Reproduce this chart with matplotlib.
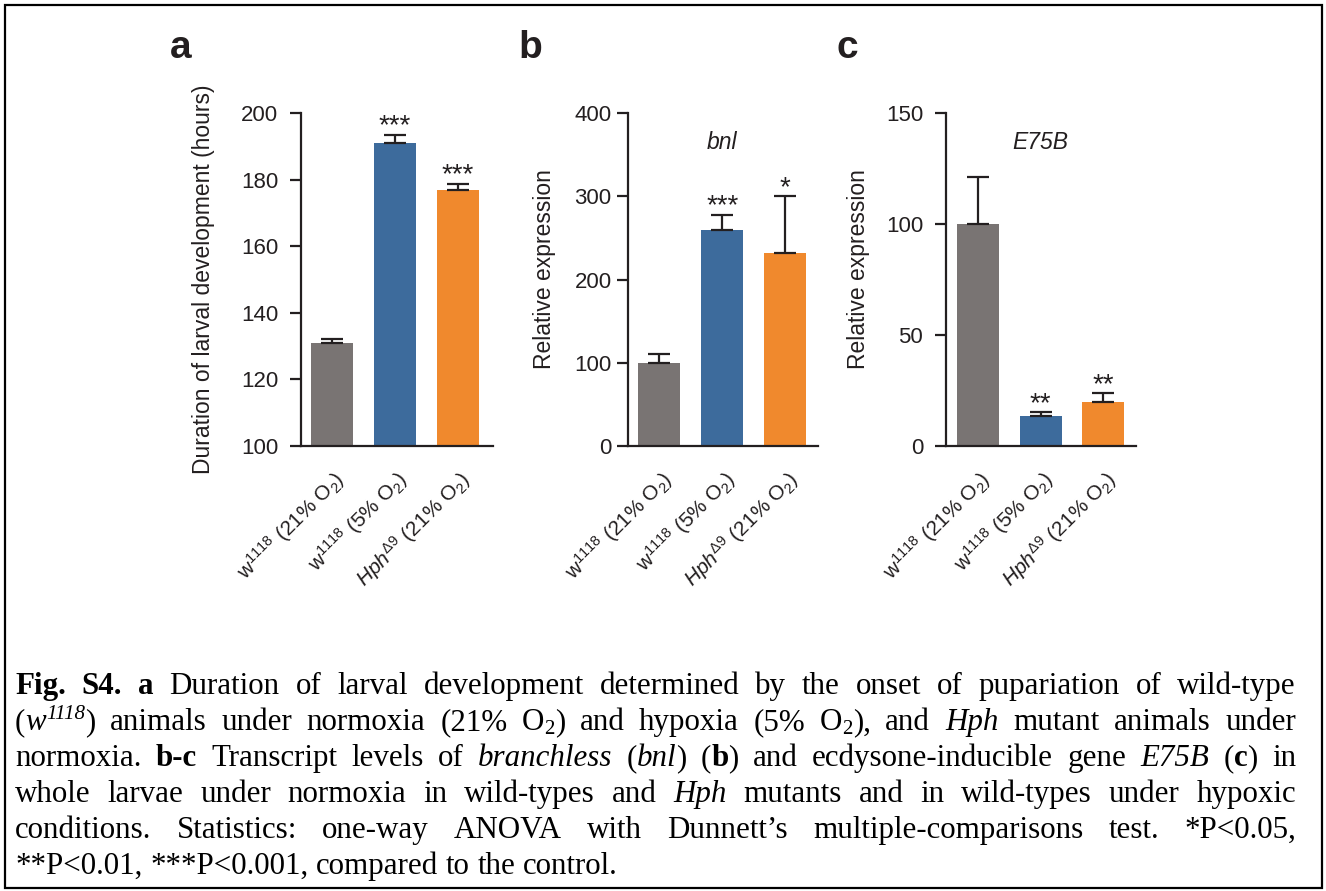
import re
import matplotlib
matplotlib.use('Agg')
import matplotlib.pyplot as plt
from matplotlib.patches import Rectangle

plt.rcParams['font.family'] = 'Liberation Sans'
plt.rcParams['mathtext.fontset'] = 'custom'
plt.rcParams['mathtext.rm'] = 'Liberation Sans'
plt.rcParams['mathtext.it'] = 'Liberation Sans:italic'
plt.rcParams['mathtext.bf'] = 'Liberation Sans:bold'

# ---------------- data ----------------
categories = [r"$\mathregular{w^{1118}}$ (21% O$_\mathregular{2}$)",
              r"$\mathregular{w^{1118}}$ (5% O$_\mathregular{2}$)",
              r"$\mathit{Hph}^{\mathregular{\Delta 9}}$ (21% O$_\mathregular{2}$)"]

dur_means = [131, 191, 177]
dur_err = [1.2, 2.4, 1.8]
dur_stars = ["", "***", "***"]

bnl_means = [100, 260, 232]
bnl_err = [11, 18, 68]
bnl_stars = ["", "***", "*"]

e75_means = [100, 13.5, 20]
e75_err = [21, 1.7, 3.7]
e75_stars = ["", "**", "**"]

bar_colors = ['#797473', '#3d6b9c', '#f0892d']
ink = '#231f20'

W, H = 1326, 891
fig = plt.figure(figsize=(W / 100, H / 100), dpi=100)


def px_axes(left, right, top=113, bottom=446):
    return fig.add_axes([left / W, 1 - bottom / H, (right - left) / W, (bottom - top) / H])


panels = [
    dict(rect=(301, 493), xlim=(-0.49, 2.56), means=dur_means, err=dur_err, stars=dur_stars,
         ylim=(100, 200), yticks=[100, 120, 140, 160, 180, 200],
         ylabel='Duration of larval development (hours)', ylab_xy=(-0.45, 0.5),
         tpad=8.5, gene=None, letter='a', letter_x=170),
    dict(rect=(628, 818), xlim=(-0.5, 2.52), means=bnl_means, err=bnl_err, stars=bnl_stars,
         ylim=(0, 400), yticks=[0, 100, 200, 300, 400],
         ylabel='Relative expression', ylab_xy=(-0.38, 0.53),
         tpad=3.8, gene='bnl', letter='b', letter_x=518),
    dict(rect=(946, 1136), xlim=(-0.51, 2.52), means=e75_means, err=e75_err, stars=e75_stars,
         ylim=(0, 150), yticks=[0, 50, 100, 150],
         ylabel='Relative expression', ylab_xy=(-0.40, 0.53),
         tpad=8.5, gene='E75B', letter='c', letter_x=837),
]

x = list(range(len(categories)))
for p in panels:
    ax = px_axes(*p['rect'])
    ax.bar(x, p['means'], width=0.667, color=bar_colors, zorder=2)
    ax.errorbar(x, p['means'], yerr=[[0] * 3, p['err']], fmt='none', ecolor=ink,
                elinewidth=1.6, capsize=8, capthick=1.6, zorder=3)
    for xi, m, e, s in zip(x, p['means'], p['err'], p['stars']):
        if s:
            ax.annotate(s, (xi, m + e), xytext=(0, 1.0), textcoords='offset points',
                        ha='center', va='baseline', fontsize=20, color=ink)
    ax.set_xlim(*p['xlim'])
    ax.set_ylim(*p['ylim'])
    ax.set_yticks(p['yticks'])
    ax.set_xticks(x)
    ax.set_xticklabels(categories, rotation=45, ha='right', rotation_mode='anchor',
                       fontsize=15, color=ink)
    ax.tick_params(axis='x', length=0, pad=15)
    ax.tick_params(axis='y', length=8, width=1.6, pad=p['tpad'], labelsize=16,
                   color=ink, labelcolor=ink)
    for side in ('top', 'right'):
        ax.spines[side].set_visible(False)
    for side in ('left', 'bottom'):
        ax.spines[side].set_linewidth(1.6)
        ax.spines[side].set_color(ink)
    ax.set_ylabel(p['ylabel'], fontsize=16.5, color=ink)
    ax.yaxis.set_label_coords(*p['ylab_xy'])
    ax.patch.set_alpha(0)
    if p['gene']:
        ax.text(1, 0.91, p['gene'], transform=ax.get_xaxis_transform(), ha='center',
                va='center', fontsize=16.5, style='italic', color=ink)
    fig.text(p['letter_x'] / W, 1 - 57.5 / H, p['letter'], ha='left', va='baseline',
             fontsize=28, fontweight='bold', color=ink)

# ---------------- caption (justified) ----------------
caption_lines = [
    "[b]Fig. S4. a[/b] Duration of larval development determined by the onset of pupariation of wild-type",
    "([i]w[sup]1118[/sup][/i]) animals under normoxia (21% O[sub]2[/sub]) and hypoxia (5% O[sub]2[/sub]), and [i]Hph[/i] mutant animals under",
    "normoxia. [b]b-c[/b] Transcript levels of [i]branchless[/i] ([i]bnl[/i]) ([b]b[/b]) and ecdysone-inducible gene [i]E75B[/i] ([b]c[/b]) in",
    "whole larvae under normoxia in wild-types and [i]Hph[/i] mutants and in wild-types under hypoxic",
    "conditions. Statistics: one-way ANOVA with Dunnett\u2019s multiple-comparisons test. *P<0.05,",
    "**P<0.01, ***P<0.001, compared to the control.",
]
cap_fs = 22.3
cap_left, cap_right = 15, 1296
baselines = [694, 730, 766, 802, 838, 874]


def parse(line):
    state = {'b': False, 'i': False, 'sup': False, 'sub': False}
    chars = []
    for m in re.finditer(r'\[(/?)(b|i|sup|sub)\]|(.)', line):
        if m.group(3) is not None:
            shift = 'sup' if state['sup'] else ('sub' if state['sub'] else None)
            chars.append((m.group(3), state['b'], state['i'], shift))
        else:
            state[m.group(2)] = (m.group(1) == '')
    words, cur = [], []
    for ch in chars:
        if ch[0] == ' ':
            if cur:
                words.append(cur)
                cur = []
        else:
            cur.append(ch)
    if cur:
        words.append(cur)
    out = []
    for w in words:
        runs = []
        for c, b, i, s in w:
            if runs and runs[-1][1:] == (b, i, s):
                runs[-1] = (runs[-1][0] + c, b, i, s)
            else:
                runs.append((c, b, i, s))
        out.append(runs)
    return out


renderer = fig.canvas.get_renderer()


def run_kw(b, i, s):
    return dict(fontsize=cap_fs * (0.68 if s else 1.0), fontweight='bold' if b else 'normal',
                fontstyle='italic' if i else 'normal', family='Liberation Serif', color='black')


def text_w(s, kw):
    t = fig.text(0, 0, s, **kw)
    w = t.get_window_extent(renderer).width
    t.remove()
    return w


def adv(s, kw):
    return text_w('H' + s + 'H', kw) - text_w('HH', kw)


em_px = cap_fs * 100 / 72
space_w = adv(' ', run_kw(False, False, None))
for li, (line, base) in enumerate(zip(caption_lines, baselines)):
    words = parse(line)
    widths = []
    for w in words:
        widths.append([adv(r[0], run_kw(*r[1:])) for r in w])
    total = sum(sum(ws) for ws in widths)
    if li < len(caption_lines) - 1 and len(words) > 1:
        gap = (cap_right - cap_left - total) / (len(words) - 1)
    else:
        gap = space_w
    cx = cap_left
    for w, ws in zip(words, widths):
        for (txt, b, i, s), rw in zip(w, ws):
            yoff = 0.36 * em_px if s == 'sup' else (-0.12 * em_px if s == 'sub' else 0)
            fig.text(cx / W, 1 - (base - yoff) / H, txt, ha='left', va='baseline', **run_kw(b, i, s))
            cx += rw
        cx += gap

# ---------------- frame ----------------
fig.patches.append(Rectangle((5 / W, 1 - 888 / H), 1317 / W, 883 / H, transform=fig.transFigure,
                             fill=False, edgecolor='black', linewidth=1.6))

fig.savefig('out.png', dpi=100)
